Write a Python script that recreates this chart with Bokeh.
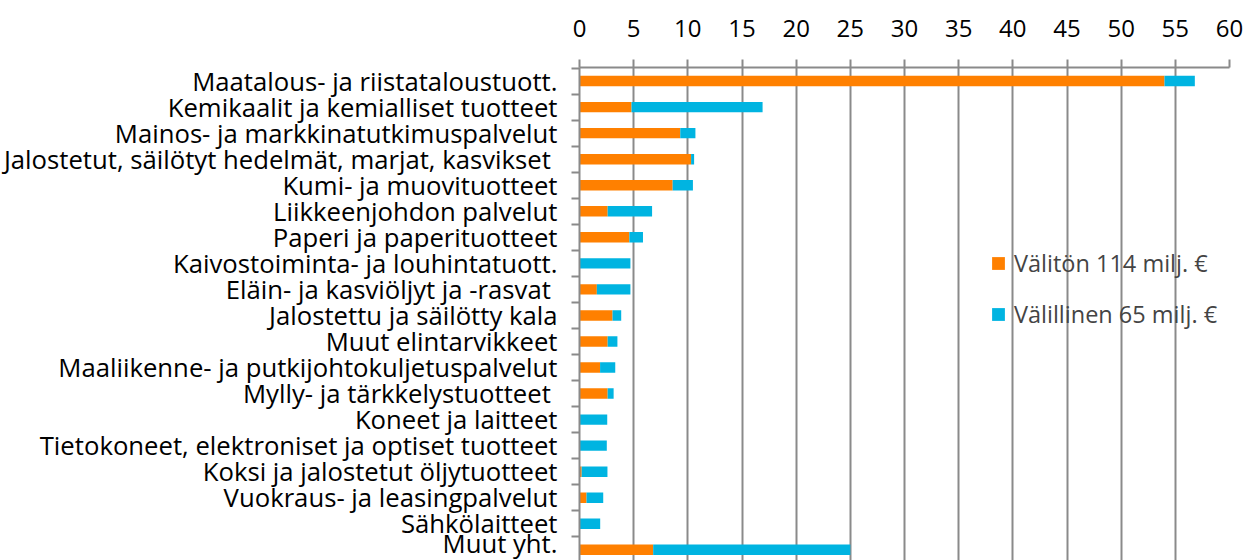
from bokeh.plotting import figure
from bokeh.models import (ColumnDataSource, Range1d, FixedTicker, Legend, LegendItem, LinearAxis)
from bokeh.embed import file_html
from bokeh.resources import INLINE

categories = [
    "Maatalous- ja riistataloustuott.",
    "Kemikaalit ja kemialliset tuotteet",
    "Mainos- ja markkinatutkimuspalvelut",
    "Jalostetut, säilötyt hedelmät, marjat, kasvikset ",
    "Kumi- ja muovituotteet",
    "Liikkeenjohdon palvelut",
    "Paperi ja paperituotteet",
    "Kaivostoiminta- ja louhintatuott.",
    "Eläin- ja kasviöljyt ja -rasvat ",
    "Jalostettu ja säilötty kala",
    "Muut elintarvikkeet",
    "Maaliikenne- ja putkijohtokuljetuspalvelut",
    "Mylly- ja tärkkelystuotteet ",
    "Koneet ja laitteet",
    "Tietokoneet, elektroniset ja optiset tuotteet",
    "Koksi ja jalostetut öljytuotteet",
    "Vuokraus- ja leasingpalvelut",
    "Sähkölaitteet",
    "Muut yht.",
]
valiton = [54.0, 4.8, 9.3, 10.3, 8.6, 2.6, 4.6, 0.0, 1.6, 3.05, 2.6, 1.9, 2.6, 0.0, 0.0, 0.2, 0.65, 0.0, 6.8]
valillinen = [2.8, 12.1, 1.4, 0.28, 1.87, 4.1, 1.26, 4.7, 3.1, 0.8, 0.9, 1.4, 0.55, 2.56, 2.52, 2.38, 1.54, 1.91, 18.2]
series_labels = ["Välitön 114 milj. €", "Välillinen 65 milj. €"]
x_ticks = [0, 5, 10, 15, 20, 25, 30, 35, 40, 45, 50, 55, 60]

n = len(categories)
ypos = [n - 1 - i for i in range(n)]
src = ColumnDataSource(dict(y=ypos, cat=categories, valiton=valiton, valillinen=valillinen))

FONT = "Open Sans"
GRID = "#8a8a8a"
FS = "25.7px"

p = figure(width=1245, height=560, output_backend="svg", toolbar_location=None,
           x_range=Range1d(0, 60), y_range=Range1d(-0.41, n - 0.48),
           x_axis_location=None, y_axis_location="left",
           min_border_left=579, min_border_right=16, min_border_top=67, min_border_bottom=0)
p.outline_line_color = None

rs = p.hbar_stack(["valiton", "valillinen"], y="y", height=0.4, color=["#FF8000", "#00B4E1"],
                  line_color=None, source=src)

xa = LinearAxis(ticker=FixedTicker(ticks=x_ticks))
xa.axis_line_color = GRID
xa.axis_line_width = 2
xa.major_tick_line_color = GRID
xa.major_tick_line_width = 2
xa.major_tick_out = 8
xa.major_tick_in = 0
xa.minor_tick_line_color = None
xa.major_label_text_font = FONT
xa.major_label_text_font_size = "24px"
xa.major_label_text_color = "black"
xa.major_label_standoff = 23
p.add_layout(xa, "above")

p.xgrid.ticker = FixedTicker(ticks=x_ticks)
p.xgrid.grid_line_color = GRID
p.xgrid.grid_line_width = 2
p.ygrid.grid_line_color = None

ya = p.yaxis[0]
ya.ticker = FixedTicker(ticks=ypos, minor_ticks=[v + 0.5 for v in range(-1, n)])
ya.major_label_overrides = {y: c for y, c in zip(ypos, categories)}
ya.major_tick_line_color = None
ya.minor_tick_line_color = GRID
ya.minor_tick_line_width = 2
ya.minor_tick_out = 8
ya.minor_tick_in = 0
ya.axis_line_color = GRID
ya.axis_line_width = 2
ya.major_label_text_font = FONT
ya.major_label_text_font_size = FS
ya.major_label_text_color = "black"
ya.major_label_standoff = 14

legend = Legend(items=[LegendItem(label=series_labels[0], renderers=[rs[0]]),
                       LegendItem(label=series_labels[1], renderers=[rs[1]])],
                location=(411, 230), padding=4, margin=0)
legend.background_fill_alpha = 0
legend.border_line_color = None
legend.label_text_font = FONT
legend.label_text_font_size = "23.5px"
legend.glyph_width = 16
legend.glyph_height = 16
legend.spacing = 19
legend.label_standoff = 8
p.add_layout(legend, "center")

open("out.html", "w").write(file_html(p, INLINE))
